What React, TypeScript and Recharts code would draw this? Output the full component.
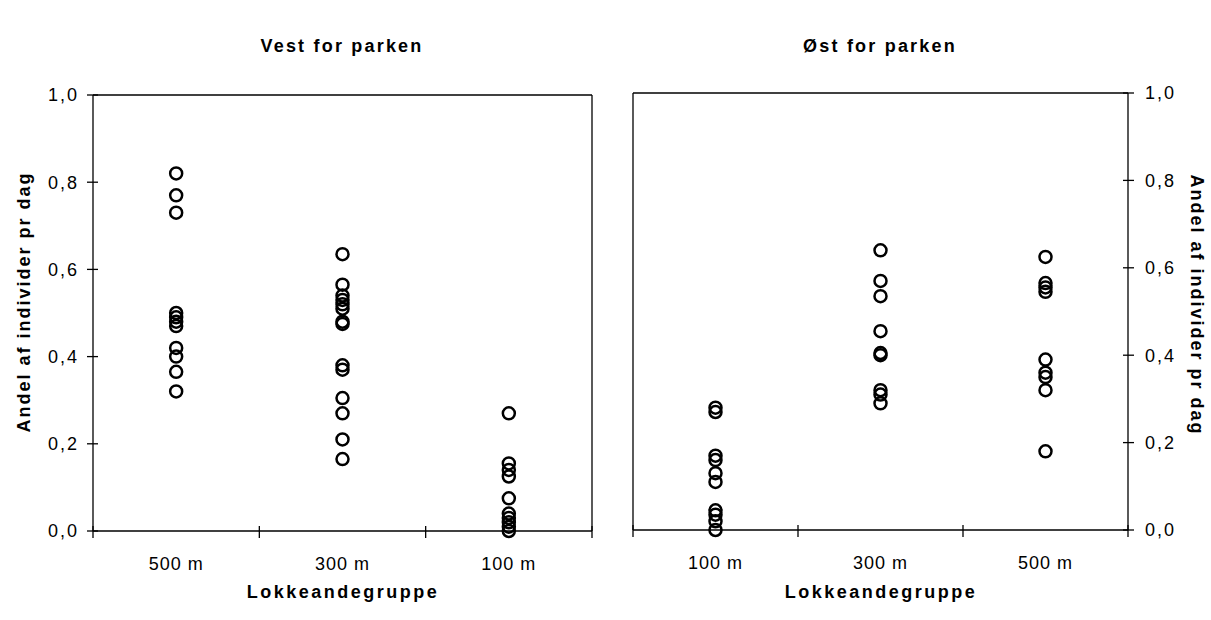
import React from 'react';
import { ScatterChart, Scatter, XAxis, YAxis, ReferenceLine } from 'recharts';

// groups along the x axis, left and right panel
const westGroups = ['500 m', '300 m', '100 m'];
const eastGroups = ['100 m', '300 m', '500 m'];

// share of individuals per day
const west500 = [0.82, 0.77, 0.73, 0.5, 0.49, 0.48, 0.47, 0.42, 0.4, 0.365, 0.32];
const west300 = [0.635, 0.565, 0.54, 0.53, 0.52, 0.51, 0.48, 0.475, 0.38, 0.37, 0.305, 0.27, 0.21, 0.165];
const west100 = [0.27, 0.155, 0.14, 0.125, 0.075, 0.04, 0.03, 0.02, 0.01, 0.0];

const east100 = [0.28, 0.27, 0.17, 0.16, 0.13, 0.11, 0.045, 0.035, 0.02, 0.0];
const east300 = [0.64, 0.57, 0.535, 0.455, 0.405, 0.4, 0.32, 0.31, 0.29];
const east500 = [0.625, 0.565, 0.555, 0.545, 0.39, 0.36, 0.35, 0.32, 0.18];

const yTicks = [0, 0.2, 0.4, 0.6, 0.8, 1];
const xTicks = [0, 0.5, 1, 1.5, 2, 2.5, 3];

const FONT = '"Liberation Sans", Arial, sans-serif';
const X_TICK = 7;
const X_GAP = 19;

const toPoints = (groups: number[][]) =>
  groups.flatMap((vals, i) => vals.map((v) => ({ x: i + 0.5, y: v })));

const fmt = (v: number) => v.toFixed(1).replace('.', ',');

const Ring = (p: any) => (
  <circle cx={p.cx} cy={p.cy} r={6} fill="none" stroke="#000" strokeWidth={2.5} />
);

const makeXTick = (labels: string[]) => (p: any) => {
  const v = p.payload.value;
  const axisY = p.y - X_TICK - X_GAP;
  if (Number.isInteger(v)) {
    return <line x1={p.x} x2={p.x} y1={axisY - 5} y2={axisY + X_TICK} stroke="#000" strokeWidth={1.3} />;
  }
  return (
    <text x={p.x} y={p.y} dy="0.71em" textAnchor="middle" fontSize={18} fontFamily={FONT}
      fill="#000" style={{ letterSpacing: 1 }}>
      {labels[Math.floor(v)]}
    </text>
  );
};

const LeftYTick = (p: any) => {
  const axisX = p.x + 6 + 8;
  return (
    <g>
      <line x1={axisX - 6} x2={axisX + 5} y1={p.y} y2={p.y} stroke="#000" strokeWidth={1.3} />
      <text x={p.x} y={p.y} dy="0.35em" textAnchor="end" fontSize={18} fontFamily={FONT}
        fill="#000" style={{ letterSpacing: 2 }}>
        {fmt(p.payload.value)}
      </text>
    </g>
  );
};

const RightYTick = (p: any) => {
  const axisX = p.x - 6 - 11;
  return (
    <g>
      <line x1={axisX - 5} x2={axisX + 6} y1={p.y} y2={p.y} stroke="#000" strokeWidth={1.3} />
      <text x={p.x} y={p.y} dy="0.35em" textAnchor="start" fontSize={18} fontFamily={FONT}
        fill="#000" style={{ letterSpacing: 2 }}>
        {fmt(p.payload.value)}
      </text>
    </g>
  );
};

const boldText: React.CSSProperties = {
  position: 'absolute',
  fontFamily: FONT,
  fontWeight: 'bold',
  fontSize: 18,
  whiteSpace: 'nowrap',
  color: '#000',
  transform: 'translate(-50%, -50%)',
};

export default function App() {
  const west = toPoints([west500, west300, west100]);
  const east = toPoints([east100, east300, east500]);

  return (
    <div style={{ position: 'absolute', left: 0, top: 0, width: 1211, height: 620, background: '#fff' }}>
      <div style={{ position: 'absolute', left: 0, top: 0 }}>
        <ScatterChart width={600} height={620} margin={{ top: 95, right: 8, bottom: 29, left: 33 }}>
          <XAxis type="number" dataKey="x" domain={[0, 3]} ticks={xTicks} interval={0}
            height={60} axisLine={{ stroke: '#000', strokeWidth: 1.3 }} tickLine={false}
            tickSize={X_TICK} tickMargin={X_GAP} tick={makeXTick(westGroups)} />
          <YAxis type="number" dataKey="y" domain={[0, 1]} ticks={yTicks} interval={0}
            width={60} axisLine={{ stroke: '#000', strokeWidth: 1.3 }} tickLine={false}
            tickSize={6} tickMargin={8} tick={LeftYTick} />
          <ReferenceLine y={1} stroke="#000" strokeWidth={1.3} />
          <ReferenceLine x={3} stroke="#000" strokeWidth={1.3} />
          <Scatter data={west} shape={Ring} isAnimationActive={false} />
        </ScatterChart>
      </div>

      <div style={{ position: 'absolute', left: 600, top: 0 }}>
        <ScatterChart width={611} height={620} margin={{ top: 93, right: 23, bottom: 30, left: 33 }}>
          <XAxis type="number" dataKey="x" domain={[0, 3]} ticks={xTicks} interval={0}
            height={60} axisLine={{ stroke: '#000', strokeWidth: 1.3 }} tickLine={false}
            tickSize={X_TICK} tickMargin={X_GAP} tick={makeXTick(eastGroups)} />
          <YAxis type="number" dataKey="y" orientation="right" domain={[0, 1]} ticks={yTicks}
            interval={0} width={60} axisLine={{ stroke: '#000', strokeWidth: 1.3 }} tickLine={false}
            tickSize={6} tickMargin={11} tick={RightYTick} />
          <ReferenceLine y={1} stroke="#000" strokeWidth={1.3} />
          <ReferenceLine x={0} stroke="#000" strokeWidth={1.3} />
          <Scatter data={east} shape={Ring} isAnimationActive={false} />
        </ScatterChart>
      </div>

      <div style={{ ...boldText, left: 342, top: 46, letterSpacing: 2.2 }}>Vest for parken</div>
      <div style={{ ...boldText, left: 880, top: 46, letterSpacing: 2.2 }}>Øst for parken</div>
      <div style={{ ...boldText, left: 343, top: 592, letterSpacing: 2.5 }}>Lokkeandegruppe</div>
      <div style={{ ...boldText, left: 881, top: 592, letterSpacing: 2.5 }}>Lokkeandegruppe</div>
      <div style={{ ...boldText, left: 24, top: 302, letterSpacing: 2, transform: 'translate(-50%, -50%) rotate(-90deg)' }}>
        Andel af individer pr dag
      </div>
      <div style={{ ...boldText, left: 1196, top: 305, letterSpacing: 2, transform: 'translate(-50%, -50%) rotate(90deg)' }}>
        Andel af individer pr dag
      </div>
    </div>
  );
}
